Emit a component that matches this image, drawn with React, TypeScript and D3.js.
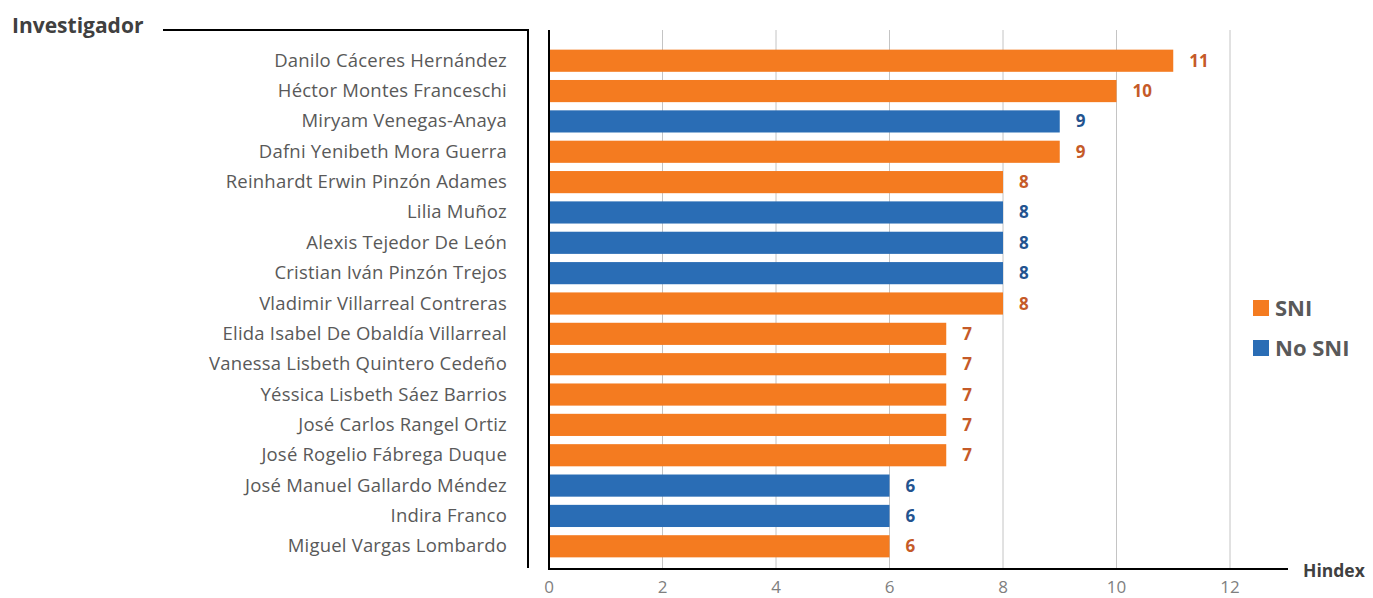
import React, { useEffect, useRef } from 'react';
import * as d3 from 'd3';

const researchers = [
  'Danilo Cáceres Hernández',
  'Héctor Montes Franceschi',
  'Miryam Venegas-Anaya',
  'Dafni Yenibeth Mora Guerra',
  'Reinhardt Erwin Pinzón Adames',
  'Lilia Muñoz',
  'Alexis Tejedor De León',
  'Cristian Iván Pinzón Trejos',
  'Vladimir Villarreal Contreras',
  'Elida Isabel De Obaldía Villarreal',
  'Vanessa Lisbeth Quintero Cedeño',
  'Yéssica Lisbeth Sáez Barrios',
  'José Carlos Rangel Ortiz',
  'José Rogelio Fábrega Duque',
  'José Manuel Gallardo Méndez',
  'Indira Franco',
  'Miguel Vargas Lombardo',
];
const hindex = [11, 10, 9, 9, 8, 8, 8, 8, 8, 7, 7, 7, 7, 7, 6, 6, 6];
const group = ['SNI', 'SNI', 'No SNI', 'SNI', 'SNI', 'No SNI', 'No SNI', 'No SNI', 'SNI', 'SNI', 'SNI', 'SNI', 'SNI', 'SNI', 'No SNI', 'No SNI', 'SNI'];
const groups = ['SNI', 'No SNI'];
const xTicks = [0, 2, 4, 6, 8, 10, 12];

const barColor: Record<string, string> = { SNI: '#f47b20', 'No SNI': '#2a6db5' };
const labelColor: Record<string, string> = { SNI: '#c55a28', 'No SNI': '#23538f' };

const App = () => {
  const svgRef = useRef<SVGSVGElement>(null);

  useEffect(() => {
    const width = 1373;
    const height = 598;
    const font = '"Open Sans", sans-serif';
    const svg = d3.select(svgRef.current).attr('width', width).attr('height', height);
    svg.selectAll('*').remove();

    const x = d3.scaleLinear().domain([0, 12]).range([549, 1230]);
    const y = d3.scaleBand().domain(researchers).range([46, 561]).paddingInner(0.27).paddingOuter(0.12);

    // gridlines
    svg.append('g')
      .selectAll('line')
      .data(xTicks.filter(d => d > 0))
      .join('line')
      .attr('x1', d => x(d)).attr('x2', d => x(d))
      .attr('y1', 30).attr('y2', 569)
      .attr('stroke', '#c4c4c4').attr('stroke-width', 1);

    // bars
    const data = researchers.map((name, i) => ({ name, v: hindex[i], g: group[i] }));
    svg.append('g')
      .selectAll('rect')
      .data(data)
      .join('rect')
      .attr('x', x(0))
      .attr('y', d => y(d.name)!)
      .attr('width', d => x(d.v) - x(0))
      .attr('height', y.bandwidth())
      .attr('fill', d => barColor[d.g]);

    // value labels
    svg.append('g')
      .selectAll('text')
      .data(data)
      .join('text')
      .attr('x', d => x(d.v) + 16)
      .attr('y', d => y(d.name)! + y.bandwidth() / 2 + 6)
      .attr('fill', d => labelColor[d.g])
      .style('font-family', font)
      .style('font-size', '17px')
      .style('font-weight', 'bold')
      .text(d => d.v);

    // category labels
    svg.append('g')
      .selectAll('text')
      .data(data)
      .join('text')
      .attr('x', 507)
      .attr('y', d => y(d.name)! + y.bandwidth() / 2 + 6)
      .attr('text-anchor', 'end')
      .attr('fill', '#595959')
      .style('font-family', font)
      .style('font-size', '18.5px')
      .style('letter-spacing', '0.2px')
      .text(d => d.name);

    // axes lines
    svg.append('line')
      .attr('x1', x(0)).attr('x2', x(0)).attr('y1', 30).attr('y2', 570)
      .attr('stroke', '#000').attr('stroke-width', 2);
    svg.append('line')
      .attr('x1', x(0)).attr('x2', 1288).attr('y1', 569).attr('y2', 569)
      .attr('stroke', '#000').attr('stroke-width', 2);

    // bracket for y title
    svg.append('path')
      .attr('d', 'M163,30H528V568')
      .attr('fill', 'none').attr('stroke', '#000').attr('stroke-width', 2);

    // x tick labels
    svg.append('g')
      .selectAll('text')
      .data(xTicks)
      .join('text')
      .attr('x', d => x(d))
      .attr('y', 593)
      .attr('text-anchor', 'middle')
      .attr('fill', '#7f7f7f')
      .style('font-family', font)
      .style('font-size', '17px')
      .text(d => d);

    svg.append('text')
      .attr('x', 12).attr('y', 33)
      .attr('fill', '#404040')
      .style('font-family', font)
      .style('font-size', '21px')
      .style('font-weight', 'bold')
      .text('Investigador');

    svg.append('text')
      .attr('x', 1303).attr('y', 577)
      .attr('fill', '#404040')
      .style('font-family', font)
      .style('font-size', '17.5px')
      .style('font-weight', 'bold')
      .text('Hindex');

    // legend
    const lg = svg.append('g')
      .selectAll('g')
      .data(groups)
      .join('g')
      .attr('transform', (d, i) => `translate(1253, ${300 + i * 40})`);
    lg.append('rect').attr('width', 16).attr('height', 16).attr('fill', d => barColor[d]);
    lg.append('text')
      .attr('x', 22).attr('y', 16)
      .attr('fill', '#595959')
      .style('font-family', font)
      .style('font-size', '22px')
      .style('font-weight', 'bold')
      .text(d => d);
  }, []);

  return <svg ref={svgRef} style={{ display: 'block', position: 'absolute', left: 0, top: 0 }}></svg>;
};

export default App;
